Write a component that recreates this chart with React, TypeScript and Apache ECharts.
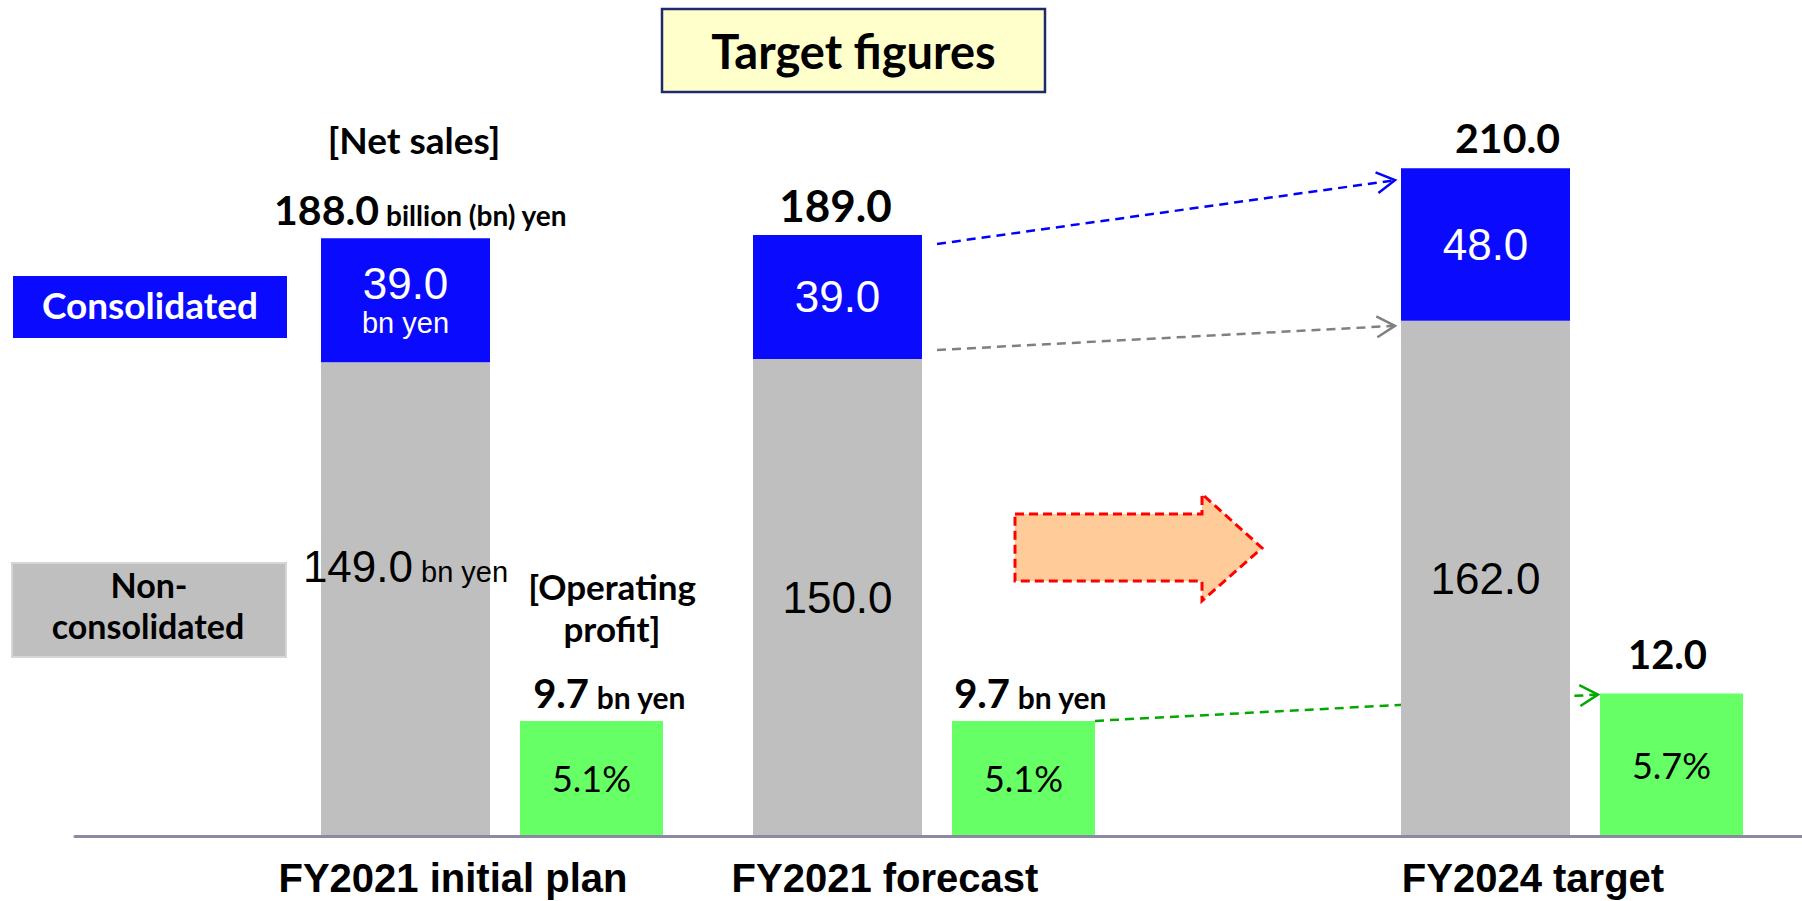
import React, { useEffect, useRef } from 'react';
import * as echarts from 'echarts';

// ---- data ----
const categories = ['FY2021 initial plan', 'FY2021 forecast', 'FY2024 target'];
const nonConsolidated = [149.0, 150.0, 162.0];
const consolidated = [39.0, 39.0, 48.0];
const operatingProfit = [9.7, 9.7, 12.0];
const operatingMargin = [5.1, 5.1, 5.7];

// ---- layout ----
const WIDTH = 1802;
const HEIGHT = 901;
const SANS = '"Liberation Sans", Arial, sans-serif';
const HUMAN = 'Lato, "Noto Sans", sans-serif';

// each category sits in one slot of a 7-slot band axis
const SLOT_COUNT = 7;
const SLOT_OF = [1, 3, 6];
const SLOT_W = 216;
const PLOT_LEFT = 168;
const GRID_TOP = 41;
const GRID_BOTTOM = 65;
const SALES_MAX = 250;
const OP_MAX = 67;
const SALES_BAR_W = 169;
const OP_BAR_W = 143;
const PAIR_GAP = 30;
const BAR_GAP = `${((PAIR_GAP / SALES_BAR_W) * 100).toFixed(3)}%`;

const BLUE = '#0A0AFF';
const GRAY = '#BFBFBF';
const GREEN = '#66FF66';

const fmt = (v: number) => v.toFixed(1);
const catOfSlot = (s: number) => SLOT_OF.indexOf(s);
const spread = (make: (i: number) => any) =>
  Array.from({ length: SLOT_COUNT }, (_, s) => {
    const i = catOfSlot(s);
    return i < 0 ? '-' : make(i);
  });

const barBase = {
  type: 'bar',
  xAxisIndex: 1,
  barGap: BAR_GAP,
  clip: false,
  stackStrategy: 'all',
  emphasis: { disabled: true },
};

function buildOption(): any {
  return {
    animation: false,
    grid: [
      { left: 75, right: 0, top: GRID_TOP, bottom: GRID_BOTTOM },
      { left: PLOT_LEFT, width: SLOT_W * SLOT_COUNT, top: GRID_TOP, bottom: GRID_BOTTOM },
    ],
    xAxis: [
      {
        gridIndex: 0,
        type: 'category',
        data: [''],
        z: 5,
        axisLine: { show: true, lineStyle: { color: '#8A8AA2', width: 3 } },
        axisTick: { show: false },
        axisLabel: { show: false },
        splitLine: { show: false },
      },
      {
        gridIndex: 1,
        type: 'category',
        data: spread((i) => categories[i]).map((c) => (c === '-' ? '' : c)),
        axisLine: { show: false },
        axisTick: { show: false },
        splitLine: { show: false },
        axisLabel: {
          interval: 0,
          margin: 24,
          color: '#000',
          fontFamily: SANS,
          fontWeight: 'bold',
          fontSize: 40,
          lineHeight: 36,
          padding: [0, 78, 0, 0],
        },
      },
    ],
    yAxis: [
      { gridIndex: 0, type: 'value', show: false },
      { gridIndex: 1, type: 'value', show: false, min: 0, max: SALES_MAX },
      { gridIndex: 1, type: 'value', show: false, min: 0, max: OP_MAX },
    ],
    series: [
      {
        ...barBase,
        name: 'Non-consolidated',
        yAxisIndex: 1,
        stack: 'sales',
        barWidth: SALES_BAR_W,
        itemStyle: { color: GRAY },
        data: spread((i) =>
          i === 0 ? { value: nonConsolidated[i], label: { offset: [0, -33] } } : nonConsolidated[i]
        ),
        label: {
          show: true,
          position: 'inside',
          formatter: (p: any) => {
            const i = catOfSlot(p.dataIndex);
            const v = fmt(nonConsolidated[i]);
            return i === 0 ? `{v|${v}}{u| bn yen}` : `{v|${v}}`;
          },
          rich: {
            v: { fontFamily: SANS, fontSize: 44, color: '#000', verticalAlign: 'bottom', lineHeight: 44 },
            u: { fontFamily: SANS, fontSize: 29, color: '#000', verticalAlign: 'bottom', lineHeight: 30, padding: [0, 0, 2, 0] },
          },
        },
      },
      {
        ...barBase,
        name: 'Consolidated',
        yAxisIndex: 1,
        stack: 'sales',
        barWidth: SALES_BAR_W,
        itemStyle: { color: BLUE },
        data: spread((i) => consolidated[i]),
        label: {
          show: true,
          position: 'inside',
          formatter: (p: any) => {
            const i = catOfSlot(p.dataIndex);
            const v = fmt(consolidated[i]);
            return i === 0 ? `{v|${v}}\n{u|bn yen}` : `{v|${v}}`;
          },
          rich: {
            v: { fontFamily: SANS, fontSize: 44, color: '#fff', lineHeight: 46, align: 'center' },
            u: { fontFamily: SANS, fontSize: 29, color: '#fff', lineHeight: 34, align: 'center' },
          },
        },
      },
      {
        // zero-height cap on the sales stack that carries the total label
        ...barBase,
        name: 'Net sales',
        yAxisIndex: 1,
        stack: 'sales',
        barWidth: SALES_BAR_W,
        itemStyle: { color: 'transparent' },
        data: spread((i) => ({
          value: 0,
          label: { offset: [[15, 0], [-2, 0], [22, -2]][i] },
        })),
        label: {
          show: true,
          position: 'top',
          distance: 8,
          formatter: (p: any) => {
            const i = catOfSlot(p.dataIndex);
            const t = fmt(nonConsolidated[i] + consolidated[i]);
            if (i === 0) return `{b|${t}}{s| billion (bn) yen}`;
            if (i === 1) return `{L|${t}}`;
            return `{b|${t}}`;
          },
          rich: {
            b: { fontFamily: HUMAN, fontWeight: 'bold', fontSize: 41, color: '#000', verticalAlign: 'bottom', lineHeight: 41 },
            L: { fontFamily: HUMAN, fontWeight: 'bold', fontSize: 44, color: '#000', verticalAlign: 'bottom', lineHeight: 44 },
            s: { fontFamily: HUMAN, fontWeight: 'bold', fontSize: 28, color: '#000', verticalAlign: 'bottom', lineHeight: 30, padding: [0, 0, 1, 0] },
          },
        },
      },
      {
        ...barBase,
        name: 'Operating profit',
        yAxisIndex: 2,
        stack: 'op',
        barWidth: OP_BAR_W,
        itemStyle: { color: GREEN },
        data: spread((i) => operatingProfit[i]),
        label: {
          show: true,
          position: 'inside',
          fontFamily: HUMAN,
          fontSize: 36,
          color: '#000',
          formatter: (p: any) => `${fmt(operatingMargin[catOfSlot(p.dataIndex)])}%`,
        },
      },
      {
        ...barBase,
        name: 'Operating profit value',
        yAxisIndex: 2,
        stack: 'op',
        barWidth: OP_BAR_W,
        itemStyle: { color: 'transparent' },
        data: spread((i) => ({
          value: 0,
          label: { offset: [[18, 0], [7, 0], [-4, -12]][i] },
        })),
        label: {
          show: true,
          position: 'top',
          distance: 8,
          formatter: (p: any) => {
            const i = catOfSlot(p.dataIndex);
            const v = fmt(operatingProfit[i]);
            return i < 2 ? `{b|${v}}{s| bn yen}` : `{b|${v}}`;
          },
          rich: {
            b: { fontFamily: HUMAN, fontWeight: 'bold', fontSize: 40, color: '#000', verticalAlign: 'bottom', lineHeight: 40 },
            s: { fontFamily: HUMAN, fontWeight: 'bold', fontSize: 30, color: '#000', verticalAlign: 'bottom', lineHeight: 31, padding: [0, 0, 1, 0] },
          },
        },
      },
    ],
  };
}

const boldText = (text: string, x: number, y: number, size: number, fill = '#000'): any => ({
  type: 'text',
  x,
  y,
  style: {
    text,
    fontFamily: HUMAN,
    fontWeight: 'bold',
    fontSize: size,
    fill,
    align: 'center',
    verticalAlign: 'middle',
  },
});

function staticGraphics(): any[] {
  return [
    // title box
    {
      type: 'rect',
      shape: { x: 662, y: 9, width: 383, height: 83 },
      style: { fill: '#FFFFCC', stroke: '#1F2A6E', lineWidth: 2.5 },
    },
    boldText('Target figures', 853.5, 51, 47),
    // legend chips
    {
      type: 'rect',
      shape: { x: 13, y: 276, width: 274, height: 62 },
      style: { fill: BLUE },
    },
    boldText('Consolidated', 150, 304, 37, '#fff'),
    {
      type: 'rect',
      shape: { x: 12, y: 563, width: 274, height: 94 },
      style: { fill: GRAY, stroke: '#D6D6D6', lineWidth: 2 },
    },
    boldText('Non-', 149, 584, 34),
    boldText('consolidated', 148, 625, 34),
    // section headings
    boldText('[Net sales]', 414, 139, 37),
    boldText('[Operating', 612, 586, 35),
    boldText('profit]', 612, 628, 35),
    // big dashed arrow between the forecast and the target
    {
      type: 'polygon',
      shape: {
        points: [
          [1015, 514],
          [1202, 514],
          [1202, 494],
          [1262, 548],
          [1202, 601],
          [1202, 581],
          [1015, 581],
        ],
      },
      style: { fill: '#FFCC99', stroke: '#FF0000', lineWidth: 3, lineDash: [9, 5] },
    },
  ];
}

function dashedArrow(x1: number, y1: number, x2: number, y2: number, color: string): any[] {
  const dx = x2 - x1;
  const dy = y2 - y1;
  const len = Math.hypot(dx, dy);
  const ux = dx / len;
  const uy = dy / len;
  const L = 21;
  const a = Math.PI / 6;
  const arm = (ang: number) => [
    x2 - L * (ux * Math.cos(ang) - uy * Math.sin(ang)),
    y2 - L * (ux * Math.sin(ang) + uy * Math.cos(ang)),
  ];
  return [
    {
      type: 'line',
      shape: { x1, y1, x2, y2 },
      style: { stroke: color, lineWidth: 2.5, lineDash: [9, 6] },
    },
    {
      type: 'polyline',
      shape: { points: [arm(a), [x2, y2], arm(-a)] },
      style: { stroke: color, lineWidth: 2.5, fill: null },
    },
  ];
}

function arrowGraphics(chart: echarts.ECharts): any[] {
  const cx = (i: number) => chart.convertToPixel({ xAxisIndex: 1 } as any, SLOT_OF[i]) as unknown as number;
  const ys = (v: number) => chart.convertToPixel({ yAxisIndex: 1 } as any, v) as unknown as number;
  const yo = (v: number) => chart.convertToPixel({ yAxisIndex: 2 } as any, v) as unknown as number;
  const pairW = SALES_BAR_W + PAIR_GAP + OP_BAR_W;
  const salesLeft = (i: number) => cx(i) - pairW / 2;
  const salesRight = (i: number) => salesLeft(i) + SALES_BAR_W;
  const opLeft = (i: number) => salesRight(i) + PAIR_GAP;
  const opRight = (i: number) => opLeft(i) + OP_BAR_W;
  const total = (i: number) => nonConsolidated[i] + consolidated[i];
  return [
    ...dashedArrow(salesRight(1) + 15, ys(total(1)) + 9, salesLeft(2) - 6, ys(total(2)) + 12, '#0000FF'),
    ...dashedArrow(salesRight(1) + 15, ys(nonConsolidated[1]) - 9, salesLeft(2) - 6, ys(nonConsolidated[2]) + 5, '#808080'),
    ...dashedArrow(opRight(1), yo(operatingProfit[1]), opLeft(2) - 2, yo(operatingProfit[2]) + 1, '#00A800'),
  ];
}

export default function App() {
  const ref = useRef<HTMLDivElement>(null);
  useEffect(() => {
    document.body.style.margin = '0';
    const el = ref.current;
    if (!el) return;
    const chart = echarts.init(el, null, { renderer: 'svg' });
    chart.setOption(buildOption());
    chart.setOption({ graphic: [...staticGraphics(), ...arrowGraphics(chart)] });
    return () => chart.dispose();
  }, []);
  return <div ref={ref} style={{ width: WIDTH, height: HEIGHT, background: '#fff' }} />;
}
